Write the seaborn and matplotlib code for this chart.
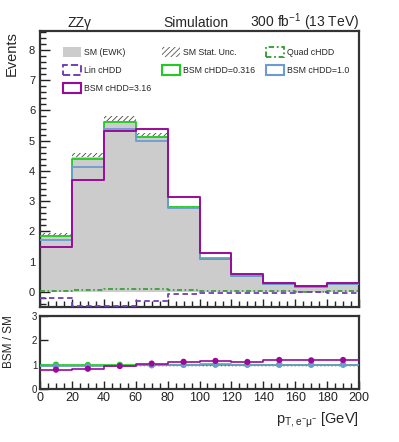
import numpy as np
import pandas as pd
import matplotlib
matplotlib.use("Agg")
import matplotlib.pyplot as plt
import seaborn as sns
from matplotlib.patches import Patch
from matplotlib.ticker import MultipleLocator

# binning in pT (GeV)
edges = np.arange(0, 201, 20)
centers = edges[:-1] + 10

# event yields
sm_ewk = [1.85, 4.45, 5.65, 5.15, 2.80, 1.10, 0.54, 0.26, 0.17, 0.26]
sm_err = [0.09, 0.14, 0.16, 0.12, 0.05, 0.02, 0.01, 0.01, 0.01, 0.01]
quad_chdd = [0.03, 0.06, 0.08, 0.09, 0.07, 0.03, 0.02, 0.02, 0.01, 0.02]
lin_chdd = [-0.21, -0.46, -0.46, -0.29, -0.08, -0.03, -0.03, -0.03, -0.02, -0.03]
bsm_0316 = [1.85, 4.39, 5.62, 5.11, 2.81, 1.10, 0.54, 0.26, 0.17, 0.26]
bsm_10 = [1.72, 4.12, 5.38, 5.00, 2.77, 1.11, 0.54, 0.26, 0.17, 0.26]
bsm_316 = [1.47, 3.70, 5.33, 5.38, 3.13, 1.27, 0.60, 0.31, 0.20, 0.31]

df = pd.DataFrame({"pt": centers, "sm": sm_ewk, "err": sm_err, "quad": quad_chdd,
                   "lin": lin_chdd, "b0316": bsm_0316, "b10": bsm_10, "b316": bsm_316})
df["r0316"] = df["b0316"] / df["sm"]
df["r10"] = df["b10"] / df["sm"]
df["r316"] = df["b316"] / df["sm"]

c_sm = "#cccccc"
c_quad = "#2e9a2e"
c_lin = "#7040b8"
c_g = "#1fcc1f"
c_b = "#6b9bd1"
c_m = "#9a0a9a"

sns.set_style("ticks")
plt.rcParams['font.family'] = ['Liberation Sans', 'DejaVu Sans']
plt.rcParams['hatch.linewidth'] = 0.6
# ROOT-like inward ticks as defaults
plt.rcParams.update({
    'xtick.direction': 'in', 'ytick.direction': 'in',
    'xtick.minor.visible': True, 'ytick.minor.visible': True,
    'xtick.minor.size': 4.5, 'ytick.minor.size': 4.5,
    'xtick.minor.width': 1.0, 'ytick.minor.width': 1.0,
    'xtick.major.size': 6, 'ytick.major.size': 7.5,
    'xtick.major.width': 1.0, 'ytick.major.width': 1.0,
    'xtick.color': '#222222', 'ytick.color': '#222222',
})

fig = plt.figure(figsize=(3.99, 4.42), dpi=100)
ax = fig.add_axes([0.1003, 0.3054, 0.7995, 0.6247])
rax = fig.add_axes([0.1003, 0.120, 0.7995, 0.165])

hist_kw = dict(binwidth=20, binrange=(0, 200), element="step")

# stat. uncertainty band, then SM fill over it
ax.bar(df["pt"], 2 * df["err"], bottom=df["sm"] - df["err"], width=20, fill=False,
       hatch='//////', linewidth=0, edgecolor='#444444', zorder=1)
sns.histplot(data=df, x="pt", weights="sm", fill=True, color=c_sm, alpha=1,
             linewidth=0, ax=ax, zorder=2, **hist_kw)

lines = [
    ("quad", c_quad, (0, (3, 1.5, 1, 1.5)), 1.2),
    ("lin", c_lin, (0, (3, 2)), 1.3),
    ("b0316", c_g, '-', 1.3),
    ("b10", c_b, '-', 1.3),
    ("b316", c_m, '-', 1.4),
]
for col_name, col, ls, lw in lines:
    sns.histplot(data=df, x="pt", weights=col_name, fill=False, color=col,
                 linestyle=ls, linewidth=lw, ax=ax, zorder=3, **hist_kw)

# ratio panel
rax.axhline(1, color='k', ls=':', lw=1, zorder=1)
for col_name, col in [("r0316", c_g), ("r10", c_b), ("r316", c_m)]:
    sns.histplot(data=df, x="pt", weights=col_name, fill=False, color=col,
                 linewidth=1.2, ax=rax, zorder=3, **hist_kw)
    sns.scatterplot(data=df, x="pt", y=col_name, color=col, s=20, edgecolor='none',
                    ax=rax, zorder=4)

ax.set_xlim(0, 200)
ax.set_ylim(-0.5, 8.63)
rax.set_xlim(0, 200)
rax.set_ylim(0, 3)
for a in (ax, rax):
    a.set_xlabel("")
    a.set_ylabel("")
    a.xaxis.set_major_locator(MultipleLocator(20))
    a.xaxis.set_minor_locator(MultipleLocator(5))
    a.yaxis.set_major_locator(MultipleLocator(1))
    for s in a.spines.values():
        s.set_linewidth(1.6)
        s.set_color('#333333')
ax.yaxis.set_minor_locator(MultipleLocator(0.2))
rax.yaxis.set_minor_locator(MultipleLocator(1))
ax.tick_params(axis='x', which='both', labelbottom=False)

ax.tick_params(axis='both', which='minor', direction='in', length=4.5, width=1.0, color='#222222')
ax.tick_params(axis='y', which='major', direction='in', length=7.5, width=1.0,
               labelsize=8, color='#222222')
ax.tick_params(axis='x', which='major', direction='in', length=6, width=1.0, color='#222222')
rax.tick_params(axis='x', which='minor', direction='in', length=4, width=1.0, color='#222222')
rax.tick_params(axis='both', which='major', direction='in', length=6, width=1.0,
                color='#222222')
rax.tick_params(axis='x', which='major', labelsize=9, pad=2)
rax.tick_params(axis='y', which='major', labelsize=7, pad=2)

# legend
handles = [
    Patch(facecolor=c_sm, edgecolor='none'),
    Patch(facecolor='none', edgecolor=c_lin, linestyle='--', linewidth=1.4),
    Patch(facecolor='none', edgecolor=c_m, linewidth=1.5),
    Patch(facecolor='none', edgecolor='#555555', hatch='//////', linewidth=0),
    Patch(facecolor='none', edgecolor=c_g, linewidth=1.5),
    Patch(facecolor='none', edgecolor=c_quad, linestyle=(0, (3, 1.5, 1, 1.5)), linewidth=1.3),
    Patch(facecolor='none', edgecolor=c_b, linewidth=1.5),
]
labels = ["SM (EWK)", "Lin cHDD", "BSM cHDD=3.16", "SM Stat. Unc.",
          "BSM cHDD=0.316", "Quad cHDD", "BSM cHDD=1.0"]
fig.legend(handles, labels, ncol=3, loc='upper left',
           bbox_to_anchor=(63 / 399, 1 - 47 / 442), bbox_transform=fig.transFigure,
           frameon=False, fontsize=6.3, handlelength=2.0, handleheight=1.3,
           handletextpad=0.35, columnspacing=1.3, labelspacing=0.95,
           borderpad=0, borderaxespad=0)

# titles and axis labels
fig.text(68 / 399, 1 - 27 / 442, "ZZγ", fontsize=10, va='baseline')
fig.text(163 / 399, 1 - 27 / 442, "Simulation", fontsize=10, va='baseline')
fig.text(0.90, 1 - 27 / 442, r"300 fb$^{\mathregular{-1}}$ (13 TeV)", fontsize=10,
         va='baseline', ha='right')
fig.text(12 / 399, 1 - 31 / 442, "Events", rotation=90, fontsize=10.5,
         ha='center', va='top')
fig.text(9 / 399, 1 - 315 / 442, "BSM / SM", rotation=90, fontsize=8.5,
         ha='center', va='top')
fig.text(0.90, 1 - 420 / 442, r"$\mathregular{p_{T,e^{-}\mu^{-}}}$ [GeV]",
         fontsize=10.5, ha='right', va='center')

fig.savefig("out.png", dpi=100)
